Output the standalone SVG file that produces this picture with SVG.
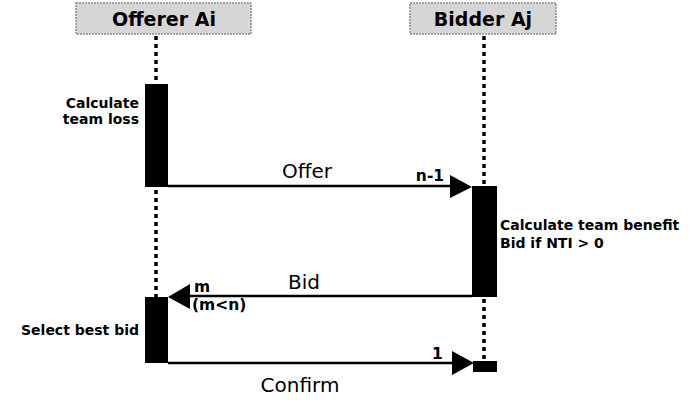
<svg xmlns="http://www.w3.org/2000/svg" width="695" height="400" viewBox="0 0 695 400">
<defs>
<style>
.hdr{fill:#d6d6d6;stroke:#8a8a8a;stroke-width:1.5;stroke-dasharray:2 1}
.htxt{font-family:"DejaVu Sans",Arial,sans-serif;font-weight:bold;font-size:19px;fill:#000;text-anchor:middle}
.life{stroke:#000;stroke-width:3.5;stroke-dasharray:4 4;fill:none}
.bar{fill:#000}
.msg{stroke:#000;stroke-width:2.5;fill:none}
.lbl{font-family:"DejaVu Sans",Arial,sans-serif;font-size:20px;fill:#000;text-anchor:middle}
.note{font-family:"DejaVu Sans",Arial,sans-serif;font-weight:bold;font-size:14px;fill:#000}
.num{font-family:"DejaVu Sans",Arial,sans-serif;font-weight:bold;font-size:15.5px;fill:#000}
</style>
</defs>
<rect width="695" height="400" fill="#fff"/>
<g id="offerer">
<rect class="hdr" x="76" y="3" width="175" height="31"/>
<text class="htxt" x="164" y="26">Offerer Ai</text>
<line class="life" x1="156" y1="36" x2="156" y2="84"/>
<line class="life" x1="156" y1="190" x2="156" y2="297"/>
<rect class="bar" x="145" y="84" width="23" height="103"/>
<rect class="bar" x="145" y="297" width="23" height="66"/>
<text class="note" x="139" y="108" text-anchor="end">Calculate</text>
<text class="note" x="139" y="124" text-anchor="end">team loss</text>
<text class="note" x="139" y="335" text-anchor="end">Select best bid</text>
</g>
<g id="bidder">
<rect class="hdr" x="410" y="3" width="146" height="31"/>
<text class="htxt" x="483" y="26">Bidder Aj</text>
<line class="life" x1="484" y1="36" x2="484" y2="186"/>
<line class="life" x1="484" y1="299" x2="484" y2="360"/>
<rect class="bar" x="472" y="186" width="25" height="111"/>
<rect class="bar" x="473" y="361" width="24" height="11"/>
<text class="note" x="500" y="230">Calculate team benefit</text>
<text class="note" x="500" y="248">Bid if NTI &gt; 0</text>
</g>
<g id="connectors">
<line class="msg" x1="168" y1="186" x2="452" y2="186"/>
<polygon points="450,175 472,187 450,198"/>
<text class="lbl" x="307" y="178">Offer</text>
<text class="num" x="430" y="181" text-anchor="middle">n-1</text>
<line class="msg" x1="190" y1="296" x2="472" y2="296"/>
<polygon points="190,284 168,297 190,309"/>
<text class="lbl" x="304" y="289">Bid</text>
<text class="num" x="194" y="292">m</text>
<text class="num" x="192" y="310">(m&lt;n)</text>
<line class="msg" x1="168" y1="363" x2="453" y2="363"/>
<polygon points="452,351 474,363 452,375"/>
<text class="num" x="432" y="359">1</text>
<text class="lbl" x="300" y="392">Confirm</text>
</g>
</svg>
